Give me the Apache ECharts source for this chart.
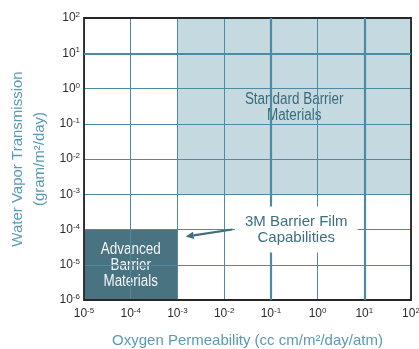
<!DOCTYPE html>
<html>
<head>
<meta charset="utf-8">
<script src="https://cdn.jsdelivr.net/npm/echarts@6/dist/echarts.min.js"></script>
<style>
  html, body { margin: 0; padding: 0; background: #ffffff; }
  #chart { width: 419px; height: 349px; }
</style>
</head>
<body>
<div id="chart"></div>
<script>
// Decades (powers of ten) labelled on each axis
const oxygenExponents = [-5, -4, -3, -2, -1, 0, 1, 2];
const vaporExponents = [-6, -5, -4, -3, -2, -1, 0, 1, 2];

// Decade lines drawn heavier than the rest of the grid
const boldOxygenLines = [1e-4, 1e-1, 1e1];
const boldVaporLines = [1e1];

// Material regions: oxygen permeability range and water vapour range
const regionNames = ['Standard Barrier\nMaterials', 'Advanced\nBarrier\nMaterials'];
const regionOxygen = [[1e-3, 1e2], [1e-5, 1e-3]];
const regionVapor = [[1e-3, 1e2], [1e-6, 1e-4]];

// Callout pointing at the advanced-barrier corner
const calloutText = '3M Barrier Film\nCapabilities';
const calloutAt = [0.35, 1e-4];
const arrowFrom = [0.015, 1e-4];
const arrowTo = [0.0015, 6.3e-5];

const SANS = '"Liberation Sans", Arial, Helvetica, sans-serif';
const GRID_COLOR = '#4e8ba3';
const TEXT_DARK = '#2e2e2e';
const TITLE_COLOR = '#5a9ab5';

const regionStyles = [
  { fill: '#c4d9e0', text: '#3a6a7c' },
  { fill: '#4a7381', text: '#f2f6f7' }
];

const regionData = regionNames.map((n, i) => [
  regionOxygen[i][0], regionVapor[i][0], regionOxygen[i][1], regionVapor[i][1]
]);

function powerLabel(exps) {
  return function (v) {
    const e = Math.round(Math.log10(v));
    return exps.includes(e) ? '{b|10}{s|' + e + '}' : '';
  };
}

const tickRich = {
  b: { fontSize: 12, color: TEXT_DARK, fontFamily: SANS, lineHeight: 14 },
  s: { fontSize: 8, color: TEXT_DARK, fontFamily: SANS, verticalAlign: 'top', lineHeight: 9 }
};

const chart = echarts.init(document.getElementById('chart'), null, { renderer: 'canvas' });

chart.setOption({
  animation: false,
  backgroundColor: '#ffffff',
  grid: {
    left: 84, top: 18, width: 327, height: 282,
    containLabel: false, outerBoundsMode: 'none',
    show: true, borderColor: '#262626', borderWidth: 1.8,
    backgroundColor: 'transparent', z: 5
  },
  xAxis: {
    type: 'log', logBase: 10,
    min: Math.pow(10, oxygenExponents[0]),
    max: Math.pow(10, oxygenExponents[oxygenExponents.length - 1]),
    z: 3,
    axisLine: { show: false },
    axisTick: { show: false },
    minorTick: { show: false },
    splitLine: { show: true, lineStyle: { color: GRID_COLOR, width: 1 } },
    axisLabel: { formatter: powerLabel(oxygenExponents), rich: tickRich, margin: 7 },
    name: 'Oxygen Permeability (cc cm/m\u00b2/day/atm)',
    nameLocation: 'middle', nameGap: 33, nameMoveOverlap: false,
    nameTextStyle: { color: TITLE_COLOR, fontSize: 15, fontFamily: SANS }
  },
  yAxis: {
    type: 'log', logBase: 10,
    min: Math.pow(10, vaporExponents[0]),
    max: Math.pow(10, vaporExponents[vaporExponents.length - 1]),
    z: 3,
    axisLine: { show: false },
    axisTick: { show: false },
    minorTick: { show: false },
    splitLine: { show: true, lineStyle: { color: GRID_COLOR, width: 1 } },
    axisLabel: { formatter: powerLabel(vaporExponents), rich: tickRich, margin: 4 },
    name: 'Water Vapor Transmission\n(gram/m\u00b2/day)',
    nameLocation: 'middle', nameGap: 33, nameRotate: 90, nameMoveOverlap: false,
    nameTextStyle: { color: TITLE_COLOR, fontSize: 15, fontFamily: SANS, lineHeight: 22 }
  },
  series: [
    {
      // shaded material regions with condensed labels
      type: 'custom',
      coordinateSystem: 'cartesian2d',
      z: 2,
      silent: true,
      encode: { x: [0, 2], y: [1, 3] },
      data: regionData,
      renderItem: function (params, api) {
        const i = params.dataIndex;
        const p0 = api.coord([api.value(0), api.value(1)]);
        const p1 = api.coord([api.value(2), api.value(3)]);
        const x = Math.min(p0[0], p1[0]), y = Math.min(p0[1], p1[1]);
        const w = Math.abs(p1[0] - p0[0]), h = Math.abs(p1[1] - p0[1]);
        return {
          type: 'group',
          children: [
            {
              type: 'rect',
              shape: { x: x, y: y, width: w, height: h },
              style: { fill: regionStyles[i].fill }
            },
            {
              type: 'text',
              x: x + w / 2, y: y + h / 2 + 1,
              scaleX: 0.84,
              style: {
                text: regionNames[i], fill: regionStyles[i].text,
                font: '16px ' + SANS, align: 'center', verticalAlign: 'middle', lineHeight: 16
              }
            }
          ]
        };
      }
    },
    {
      // heavier decade lines
      type: 'line',
      data: [],
      z: 4,
      silent: true,
      markLine: {
        silent: true,
        symbol: ['none', 'none'],
        label: { show: false },
        lineStyle: { color: GRID_COLOR, width: 2.2, type: 'solid' },
        emphasis: { disabled: true },
        data: boldOxygenLines.map(v => ({ xAxis: v })).concat(boldVaporLines.map(v => ({ yAxis: v })))
      }
    },
    {
      // callout text and arrow
      type: 'custom',
      coordinateSystem: 'cartesian2d',
      z: 6,
      silent: true,
      data: [[calloutAt[0], calloutAt[1]]],
      renderItem: function (params, api) {
        const c = api.coord(calloutAt);
        const a = api.coord(arrowFrom);
        const b = api.coord(arrowTo);
        const dx = b[0] - a[0], dy = b[1] - a[1];
        const len = Math.sqrt(dx * dx + dy * dy);
        const ux = dx / len, uy = dy / len;
        const head = 8, half = 3.6;
        const bx = b[0] - ux * head, by = b[1] - uy * head;
        return {
          type: 'group',
          children: [
            {
              type: 'line',
              shape: { x1: a[0], y1: a[1], x2: bx, y2: by },
              style: { stroke: '#3d6f80', lineWidth: 2.2 }
            },
            {
              type: 'polygon',
              shape: { points: [[b[0], b[1]], [bx - uy * half, by + ux * half], [bx + uy * half, by - ux * half]] },
              style: { fill: '#3d6f80' }
            },
            {
              type: 'text',
              x: c[0], y: c[1],
              style: {
                text: calloutText, fill: '#3d6f80', font: '15px ' + SANS,
                align: 'center', verticalAlign: 'middle', lineHeight: 16,
                backgroundColor: '#ffffff', padding: [7, 10, 7, 10]
              }
            }
          ]
        };
      }
    }
  ]
});
</script>
</body>
</html>
